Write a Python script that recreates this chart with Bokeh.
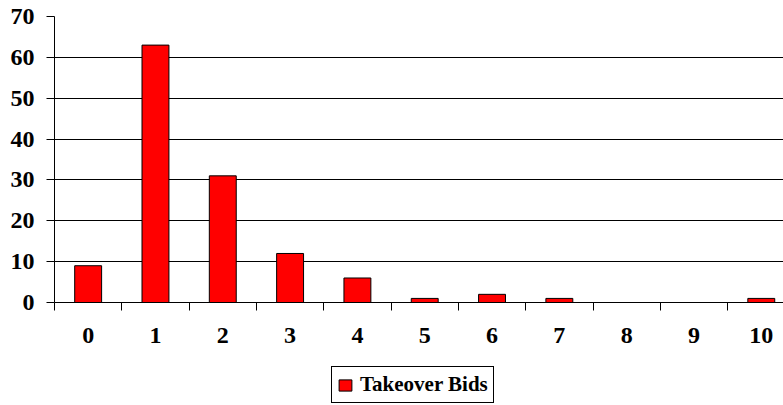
from bokeh.plotting import figure
from bokeh.models import (ColumnDataSource, FixedTicker, Range1d, Legend, LegendItem, LinearAxis, Grid)
from bokeh.layouts import column
from bokeh.embed import file_html
from bokeh.resources import INLINE

categories = [0, 1, 2, 3, 4, 5, 6, 7, 8, 9, 10]
bids = [9, 63, 31, 12, 6, 1, 2, 1, 0, 0, 1]
series_name = "Takeover Bids"
y_ticks = [0, 10, 20, 30, 40, 50, 60, 70]

src = ColumnDataSource(dict(x=categories, top=bids))

p = figure(width=783, height=358, output_backend="svg", toolbar_location=None,
           x_range=Range1d(-0.5, 10.33), y_range=Range1d(0, 70),
           x_axis_type=None, y_axis_type=None,
           min_border_left=54, min_border_right=0, min_border_top=16,
           min_border_bottom=56, outline_line_color=None)

xa = LinearAxis(ticker=FixedTicker(ticks=categories,
                                   minor_ticks=[c - 0.5 for c in categories] + [10.5]))
xa.major_tick_out = 0
xa.major_tick_in = 0
xa.minor_tick_out = 8
xa.minor_tick_in = 0
xa.minor_tick_line_color = "black"
xa.axis_line_color = "black"
xa.major_label_text_font = "Liberation Serif"
xa.major_label_text_font_style = "bold"
xa.major_label_text_font_size = "24px"
xa.major_label_text_color = "black"
xa.major_label_standoff = 17
p.add_layout(xa, "below")

ya = LinearAxis(ticker=FixedTicker(ticks=y_ticks))
ya.major_tick_out = 8
ya.major_tick_in = 0
ya.minor_tick_line_color = None
ya.axis_line_color = "black"
ya.major_tick_line_color = "black"
ya.major_label_text_font = "Liberation Serif"
ya.major_label_text_font_style = "bold"
ya.major_label_text_font_size = "24px"
ya.major_label_text_color = "black"
ya.major_label_standoff = 12
p.add_layout(ya, "left")

grid = Grid(dimension=1, ticker=FixedTicker(ticks=y_ticks),
            grid_line_color="black", grid_line_width=1)
p.add_layout(grid)

bar_style = dict(fill_color="#ff0000", line_color="black", line_width=1)
r = p.vbar(x="x", top="top", width=0.4, source=src, **bar_style)

# legend strip below the chart (its bars fall outside its range, only the legend shows)
p2 = figure(width=783, height=47, output_backend="svg", toolbar_location=None,
            x_axis_type=None, y_axis_type=None, outline_line_color=None,
            min_border_left=54, min_border_right=0, min_border_top=0,
            min_border_bottom=0, x_range=Range1d(100, 101), y_range=Range1d(100, 101))
r2 = p2.vbar(x="x", top="top", width=0.4, source=src, **bar_style)

legend = Legend(items=[LegendItem(label=series_name, renderers=[r2])],
                location=(277, 2), orientation="vertical")
legend.margin = 0
legend.padding = 5
legend.glyph_width = 16
legend.glyph_height = 14
legend.label_standoff = 7
legend.label_height = 20
legend.label_text_font = "Liberation Serif"
legend.label_text_font_style = "bold"
legend.label_text_font_size = "21px"
legend.label_text_color = "black"
legend.border_line_color = "black"
legend.border_line_alpha = 1
legend.border_line_width = 1
legend.background_fill_color = "white"
legend.background_fill_alpha = 1
p2.add_layout(legend, "center")

layout = column(p, p2, spacing=0)
open("out.html", "w").write(file_html(layout, INLINE))
